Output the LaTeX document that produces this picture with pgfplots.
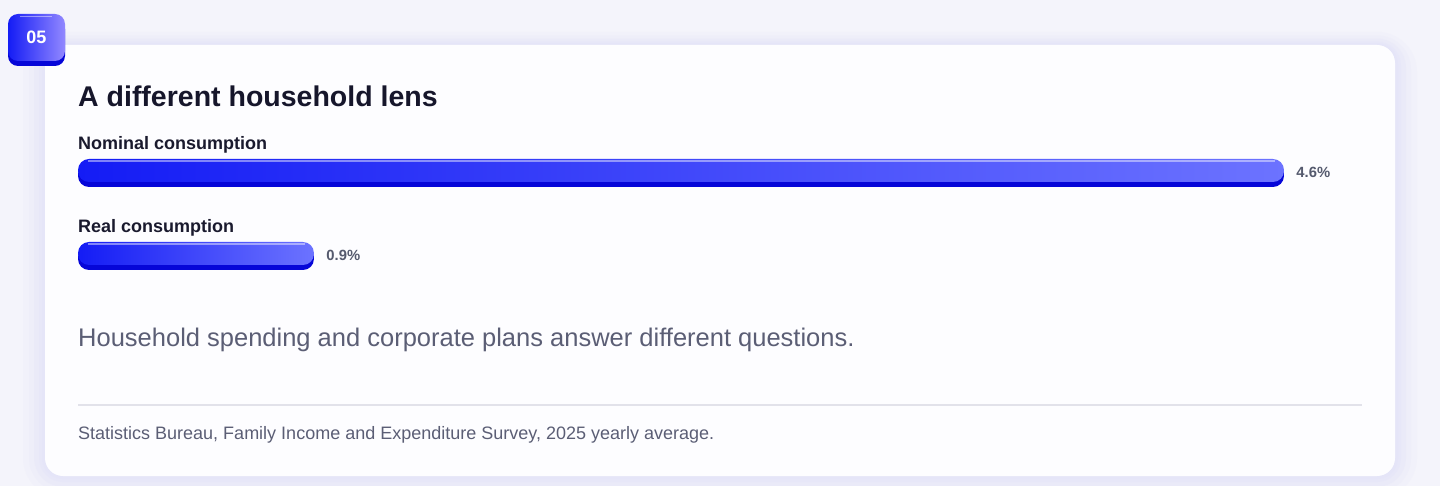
\documentclass[border=0pt]{standalone}
\usepackage{fontspec}
\setmainfont{Liberation Sans}
\usepackage{pgfplots}
\pgfplotsset{compat=1.18}
\definecolor{bgc}{RGB}{244,244,251}
\definecolor{cardc}{RGB}{253,253,255}
\definecolor{glow}{RGB}{226,226,248}
\definecolor{titlec}{RGB}{22,22,43}
\definecolor{labc}{RGB}{26,26,46}
\definecolor{subc}{RGB}{91,94,117}
\definecolor{valc}{RGB}{85,90,110}
\definecolor{barL}{RGB}{20,28,245}
\definecolor{barR}{RGB}{108,115,255}
\definecolor{barD}{RGB}{6,6,216}
\definecolor{badgeR}{RGB}{146,136,255}
\definecolor{linec}{RGB}{226,226,234}
\begin{document}
\begin{tikzpicture}
\useasboundingbox (0pt,0pt) rectangle (1440pt,-486pt);
\begin{scope}
\clip (0pt,0pt) rectangle (1440pt,-486pt);
% background
\fill[bgc] (0pt,0pt) rectangle (1440pt,-486pt);
% glow / shadow
\foreach \d/\o in {22/0.15,16/0.2,11/0.25,6/0.3,3/0.35}{
  \fill[glow,opacity=\o,rounded corners={(18+\d)*1pt}] ({(45-\d)*1pt},{(-45+\d*0.6)*1pt}) rectangle ({(1395+\d)*1pt},{(-476-\d)*1pt});
}
% card
\fill[cardc,rounded corners=18pt] (45pt,-45pt) rectangle (1395pt,-476pt);
\end{scope}
% badge
\fill[barD,rounded corners=10pt] (8pt,-19pt) rectangle (65pt,-66pt);
\shade[left color=barL,right color=badgeR,rounded corners=10pt] (8pt,-14pt) rectangle (65pt,-61pt);
\draw[white,opacity=0.45,line width=1.5pt] (20pt,-16.5pt) -- (52pt,-16.5pt);
\node[text=white,font=\fontsize{18}{20}\selectfont\bfseries] at (36.5pt,-37.5pt) {05};
% texts
\node[anchor=base west,inner sep=0,text=titlec,font=\fontsize{28.5}{32}\selectfont\bfseries] at (78pt,-106.5pt) {A different household lens};
\node[anchor=base west,inner sep=0,text=labc,font=\fontsize{18}{21}\selectfont\bfseries] at (78pt,-149.5pt) {Nominal consumption};
\node[anchor=base west,inner sep=0,text=labc,font=\fontsize{18}{21}\selectfont\bfseries] at (78pt,-232.5pt) {Real consumption};
\node[anchor=base west,inner sep=0,text=subc,font=\fontsize{25.5}{28}\selectfont] at (78pt,-346.5pt) {Household spending and corporate plans answer different questions.};
\draw[linec,line width=1.3pt] (78pt,-405pt) -- (1362pt,-405pt);
\node[anchor=base west,inner sep=0,text=subc,font=\fontsize{18}{20}\selectfont] at (78pt,-439pt) {Statistics Bureau, Family Income and Expenditure Survey, 2025 yearly average.};
% bars
\begin{axis}[
  at={(78pt,-486pt)}, anchor=south west,
  scale only axis, width=1206pt, height=486pt,
  xmin=0, xmax=4.6, ymin=-486, ymax=0,
  hide axis, clip=false,
]
\addplot[xbar, bar width=24pt, fill=barD, draw=none, rounded corners=11pt] coordinates {(4.6,-175)};
\addplot[xbar, bar width=24pt, fill=barD, draw=none, rounded corners=11pt] coordinates {(0.9,-258)};
\addplot[xbar, bar width=23pt, left color=barL, right color=barR, draw=none, rounded corners=11pt,
  point meta=explicit symbolic, nodes near coords,
  nodes near coords style={anchor=west, xshift=9pt, yshift=-1.5pt, text=valc, font=\fontsize{14.8}{17}\selectfont\bfseries}]
  coordinates {(4.6,-170.5)[4.6\%]};
\addplot[xbar, bar width=23pt, left color=barL, right color=barR, draw=none, rounded corners=11pt,
  point meta=explicit symbolic, nodes near coords,
  nodes near coords style={anchor=west, xshift=9pt, yshift=-1.5pt, text=valc, font=\fontsize{14.8}{17}\selectfont\bfseries}]
  coordinates {(0.9,-253.5)[0.9\%]};
\addplot[mark=none, draw=white, opacity=0.45, line width=1.5pt] coordinates {(0.04,-161) (4.565,-161)};
\addplot[mark=none, draw=white, opacity=0.45, line width=1.5pt] coordinates {(0.04,-244) (0.865,-244)};
\end{axis}
\end{tikzpicture}
\end{document}
